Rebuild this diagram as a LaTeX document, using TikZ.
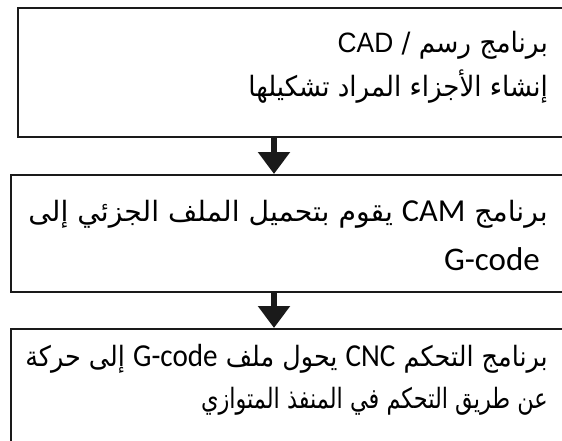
\documentclass[tikz,border=0pt]{standalone}
\usepackage{fontspec}
\usepackage{graphicx}
\setmainfont{Liberation Sans}
\newfontfamily\arabicfont[Script=Arabic]{DejaVu Sans}
\newfontfamily\calfont{Carlito}
\TeXXeTstate=1
\usetikzlibrary{arrows.meta,positioning}
\definecolor{ink}{HTML}{1A1A1A}
\newcommand{\lat}[1]{\beginL#1\endL{}}
\newcommand{\latcal}[1]{{\calfont\fontsize{32}{32}\selectfont\lat{#1}}}
\newcommand{\squeeze}[2]{\scalebox{#1}[1]{#2}}

\begin{document}
\begin{tikzpicture}[x=1pt,y=-1pt,
  box/.style={draw=ink,line width=2pt,inner sep=0pt,anchor=north west,minimum width=570pt},
  txt/.style={anchor=base east,inner sep=0pt,font=\arabicfont\fontsize{28}{28}\selectfont},
  flow/.style={ink,line width=6pt,-{Triangle[width=31pt,length=22pt]}}]
\clip (0,0) rectangle (562,441);
% the three steps
\node[box,minimum height=129pt] (cad) at (17,7) {};
\node[box,minimum height=117pt] (cam) at (10,174) {};
\node[box,minimum height=113pt] (cnc) at (10,328) {};
% texts, one node per line
\node[txt] (cad1) at (548,53) {\squeeze{0.94}{\beginR برنامج رسم / {\rmfamily\fontsize{28}{28}\selectfont\lat{CAD}}\endR}};
\node[txt] (cad2) at (548,97) {\squeeze{0.93}{\beginR إنشاء الأجزاء المراد تشكيلها\endR}};
\node[txt] (cam1) at (548,221) {\squeeze{1.01}{\beginR برنامج \latcal{CAM} يقوم بتحميل الملف الجزئي إلى\endR}};
\node[txt,font=\calfont\fontsize{33}{33}\selectfont] (cam2) at (540,270) {G-code};
\node[txt] (cnc1) at (548,366) {\squeeze{0.91}{\beginR برنامج التحكم \latcal{CNC} يحول ملف \latcal{G-code} إلى حركة\endR}};
\node[txt] (cnc2) at (548,408) {\squeeze{0.8}{\beginR عن طريق التحكم في المنفذ المتوازي\endR}};
% arrows between the steps
\draw[flow] (cad.south -| 274,0) -- (cam.north -| 274,0);
\draw[flow] (cam.south -| 274,0) -- (cnc.north -| 274,0);
\end{tikzpicture}
\end{document}
